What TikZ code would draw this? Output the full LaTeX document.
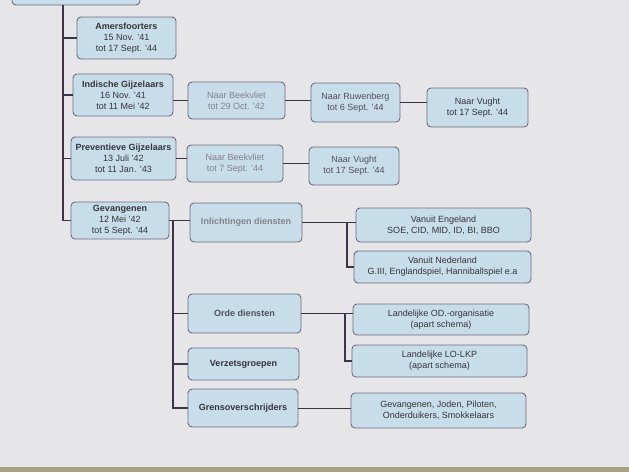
\documentclass[tikz,border=0pt]{standalone}
\usepackage{fontspec}
\setmainfont{Liberation Sans}
\definecolor{bgc}{RGB}{230,230,232}
\definecolor{boxfill}{RGB}{200,221,234}
\definecolor{boxline}{RGB}{112,106,128}
\definecolor{txt}{RGB}{52,52,58}
\definecolor{fade}{RGB}{130,130,138}
\definecolor{mid}{RGB}{80,80,88}
\definecolor{linec}{RGB}{62,52,72}
\definecolor{strip}{RGB}{170,160,130}
\tikzset{
  box/.style={draw=boxline, line width=0.9pt, fill=boxfill, rounded corners=4pt,
    align=center, inner sep=1pt, font=\fontsize{9}{11}\selectfont, text=txt},
  conn/.style={draw=linec, line width=0.8pt},
  spine/.style={draw=linec, line width=1.6pt}
}
\begin{document}
\begin{tikzpicture}[x=1pt,y=-1pt]
\useasboundingbox (0,0) rectangle (629,472);
\clip (0,0) rectangle (629,472);
\fill[bgc] (0,0) rectangle (629,472);
\fill[strip] (0,467) rectangle (629,472);
% left column
\node[box, minimum width=128pt, minimum height=25pt] (top) at (76,-7.5) {};
\node[box, minimum width=99pt, minimum height=42pt] (ams) at (126.5,38) {\textbf{Amersfoorters}\\15 Nov. '41\\tot 17 Sept. '44};
\node[box, minimum width=100pt, minimum height=42pt] (ind) at (123,95) {\textbf{Indische Gijzelaars}\\16 Nov. '41\\tot 11 Mei '42};
\node[box, minimum width=105pt, minimum height=43pt] (prev) at (123.5,158.5) {\textbf{Preventieve Gijzelaars}\\13 Juli '42\\tot 11 Jan. '43};
\node[box, minimum width=98pt, minimum height=37pt] (gev) at (120,220.5) {\textbf{Gevangenen}\\12 Mei '42\\tot 5 Sept. '44};
% transports
\node[box, minimum width=97pt, minimum height=37pt, text=fade] (bk1) at (236.5,100.5) {Naar Beekvliet\\tot 29 Oct. '42};
\node[box, minimum width=89pt, minimum height=39pt, text=mid] (ruw) at (355.5,102.5) {Naar Ruwenberg\\tot 6 Sept. '44};
\node[box, minimum width=101pt, minimum height=39pt] (vu1) at (477.5,107.5) {Naar Vught\\tot 17 Sept. '44};
\node[box, minimum width=96pt, minimum height=37pt, text=fade] (bk2) at (235,163.5) {Naar Beekvliet\\tot 7 Sept. '44};
\node[box, minimum width=90pt, minimum height=38pt, text=mid] (vu2) at (354,166) {Naar Vught\\tot 17 Sept. '44};
% gevangenen branch
\node[box, minimum width=112pt, minimum height=39pt, text=fade] (inl) at (246,222.5) {\textbf{Inlichtingen diensten}};
\node[box, minimum width=113pt, minimum height=39pt, text=mid] (orde) at (244.5,313.5) {\textbf{Orde diensten}};
\node[box, minimum width=111pt, minimum height=32pt] (verz) at (243.5,364) {\textbf{Verzetsgroepen}};
\node[box, minimum width=110pt, minimum height=38pt] (grens) at (243,408) {\textbf{Grensoverschrijders}};
% right column
\node[box, minimum width=175pt, minimum height=34pt] (eng) at (443.5,225) {Vanuit Engeland\\SOE, CID, MID, ID, BI, BBO};
\node[box, minimum width=177pt, minimum height=32pt] (ned) at (442.5,267) {Vanuit Nederland\\G.III, Englandspiel, Hanniballspiel e.a};
\node[box, minimum width=176pt, minimum height=31pt] (lod) at (441,319.5) {Landelijke OD.-organisatie\\(apart schema)};
\node[box, minimum width=175pt, minimum height=32pt] (lo) at (439.5,361) {Landelijke LO-LKP\\(apart schema)};
\node[box, minimum width=175pt, minimum height=35pt] (gj) at (438.5,410.5) {Gevangenen, Joden, Piloten,\\Onderduikers, Smokkelaars};
% spines
\coordinate (s0) at (63,0);
\coordinate (s1) at (173,0);
\coordinate (s2) at (347,0);
\coordinate (s3) at (345,0);
\draw[spine] (s0 |- top.south) |- (gev.west);
\draw[spine] (s0 |- ams.west) -- (ams.west);
\draw[spine] (s0 |- ind.west) -- (ind.west);
\draw[spine] (s0 |- prev.west) -- (prev.west);
\draw[conn] (ind.east |- bk1.west) -- (bk1.west);
\draw[conn] (bk1.east) -- (bk1.east -| ruw.west);
\draw[conn] (ruw.east) -- (ruw.east -| vu1.west);
\draw[conn] (prev.east) -- (prev.east -| bk2.west);
\draw[conn] (bk2.east) -- (bk2.east -| vu2.west);
\draw[spine] (gev.east) -- (gev.east -| inl.west);
\draw[spine] (gev.east -| s1) |- (grens.west);
\draw[spine] (s1 |- orde.west) -- (orde.west);
\draw[spine] (s1 |- verz.west) -- (verz.west);
\draw[conn, line width=1.1pt] (inl.east) -- (inl.east -| eng.west);
\draw[conn, line width=1.1pt] (inl.east -| s2) |- (ned.west);
\draw[conn, line width=1.1pt] (orde.east) -- (orde.east -| lod.west);
\draw[conn, line width=1.1pt] (orde.east -| s3) |- (lo.west);
\draw[conn] (grens.east) -- (grens.east -| gj.west);
\end{tikzpicture}
\end{document}
